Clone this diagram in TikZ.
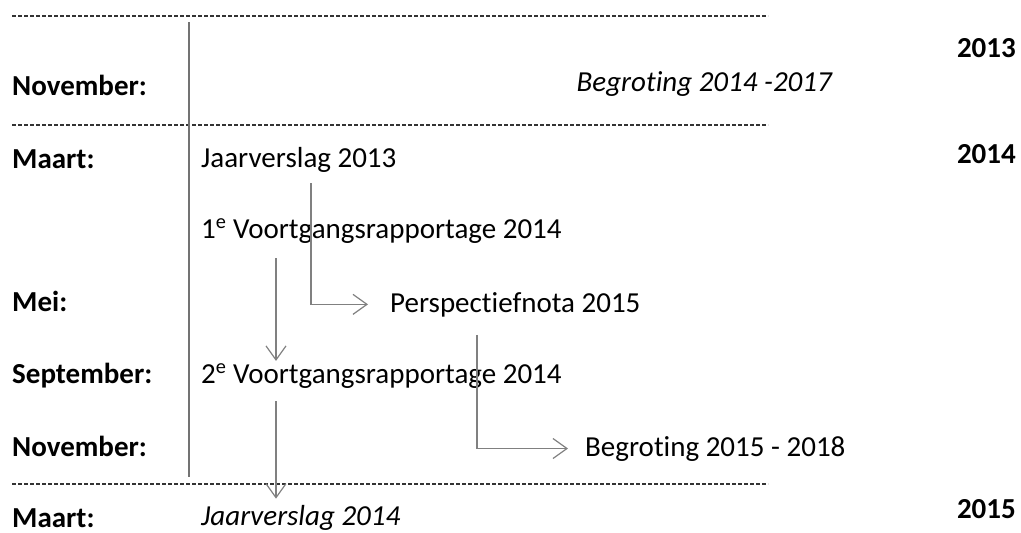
\documentclass[tikz,border=0pt]{standalone}
\usepackage{fontspec}
\setmainfont[Ligatures=NoCommon]{Carlito}
\usepackage{tikz}
\usetikzlibrary{arrows.meta,positioning,calc}
\newcommand{\nolig}{\kern0pt }

\begin{document}
\begin{tikzpicture}[
    x=1pt, y=-1pt,
    font=\fontsize{29}{34}\selectfont,
    every node/.style={inner sep=0pt, anchor=base west},
    month/.style={font=\fontsize{29}{34}\selectfont\bfseries},
    year/.style={font=\fontsize{29}{34}\selectfont\bfseries, anchor=base east},
    item/.style={},
    plan/.style={font=\fontsize{29}{34}\selectfont\itshape},
    yearline/.style={draw=black!80, line width=1.5pt, dash pattern=on 4pt off 2pt},
    flow/.style={draw=black!50, line width=1.2pt, -{Straight Barb[length=14pt,width=20pt]}}
]
\useasboundingbox (0,0) rectangle (1021,533);

% year separators and left rule
\foreach \y in {16,125,484}
  \draw[yearline] (12,\y) -- (768,\y);
\draw[draw=black!55, line width=1.4pt] (189,22) -- (189,477);

% months
\node[month] (nov13) at (12,95) {November:};
\node[month] (mrt14) at (12,168) {Maart:};
\node[month] (mei14) at (12,311) {Mei:};
\node[month] (sep14) at (12,383) {September:};
\node[month] (nov14) at (12,456) {November:};
\node[month] (mrt15) at (12,527) {Maart:};

% years
\node[year] (y13) at (1016,57) {2013};
\node[year] (y14) at (1016,163) {2014};
\node[year] (y15) at (1016,518) {2015};

% documents
\node[plan, anchor=base east] (bg14) at (832,91) {Begrot\nolig ing 2014 -2017};
\node[item] (jv13) at (201,167) {Jaarverslag 2013};
\node[item] (vgr1) at (201,238) {1\textsuperscript{e} Voortgangsrapportage 2014};
\node[item] (pn15) at (390,312) {Perspect\nolig iefnota 2015};
\node[item] (vgr2) at (201,383) {2\textsuperscript{e} Voortgangsrapportage 2014};
\node[item] (bg15) at (585,456) {Begrot\nolig ing 2015 - 2018};
\node[plan] (jv14) at (201,525) {Jaarverslag 2014};

% flows
\draw[flow] ([xshift=110pt,yshift=-11pt]jv13.south west) |- ([xshift=-22pt]pn15.west);
\draw[flow] ([xshift=87pt,yshift=-18pt]pn15.south west) |- ([xshift=-17pt]bg15.west);
\draw[flow] ([xshift=75pt,yshift=-15pt]vgr1.south west) -- ([xshift=75pt,yshift=3pt]vgr2.north west);
\draw[flow] ([xshift=75pt,yshift=-13pt]vgr2.south west) -- ([xshift=75pt,yshift=6pt]jv14.north west);
\end{tikzpicture}
\end{document}
